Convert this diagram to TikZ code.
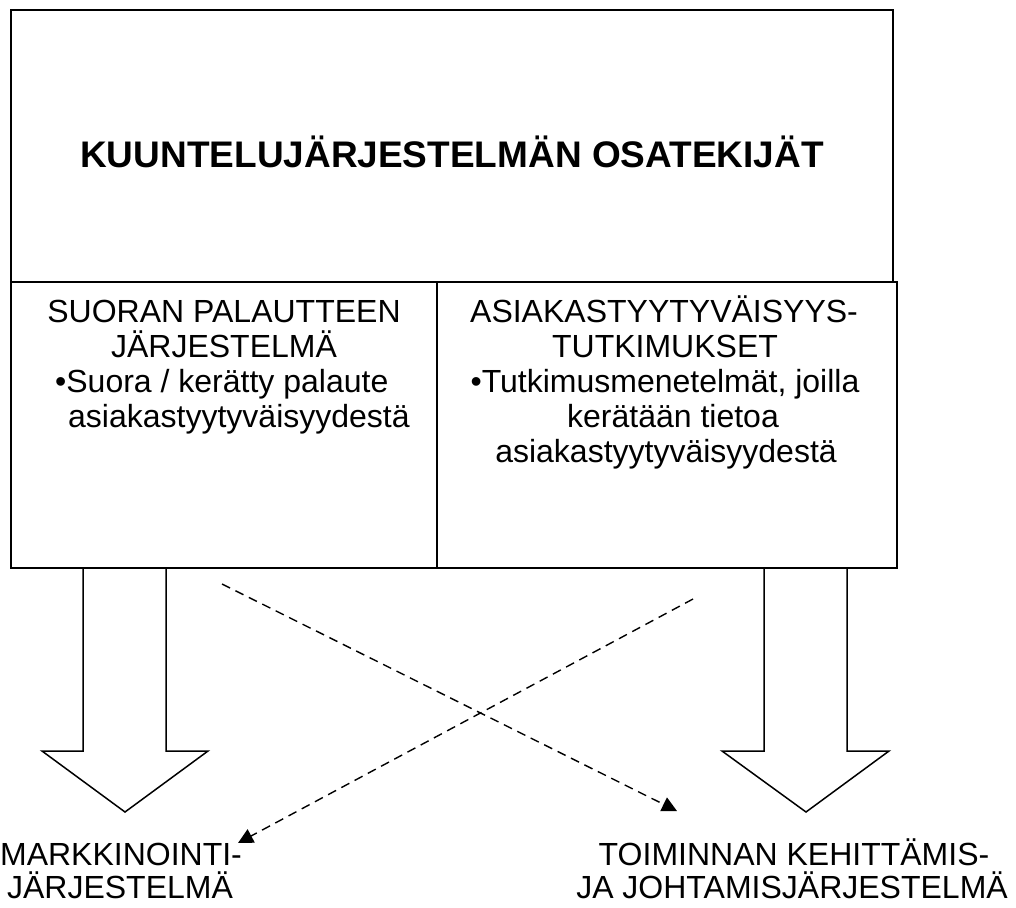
\documentclass[tikz,border=0pt]{standalone}
\usepackage{fontspec}
\setmainfont{Liberation Sans}
\usetikzlibrary{arrows.meta}
\begin{document}
\begin{tikzpicture}[x=1pt,y=-1pt,
  box/.style={draw,line width=1.8pt,inner sep=0pt},
  txt/.style={font=\fontsize{32}{35}\selectfont,inner sep=0pt,anchor=base},
  lbl/.style={font=\fontsize{32}{33}\selectfont,inner sep=0pt,anchor=base},
  title/.style={font=\fontsize{37}{42}\selectfont\bfseries,inner sep=0pt,anchor=base},
  blockarrow/.style={draw,line width=1.5pt,line join=miter},
  dasharrow/.style={draw,line width=1.4pt,dash pattern=on 9pt off 6pt,
    -{Triangle[length=15pt,width=15pt]}}]
\useasboundingbox (0,0) rectangle (1016,907);

% main box and its two compartments
\node[box,minimum width=882pt,minimum height=272pt] (top) at (452,146) {};
\node[box,minimum width=426pt,minimum height=286pt] (left) at (224,425) {};
\node[box,minimum width=460pt,minimum height=286pt] (right) at (667,425) {};

\node[title] (ttl) at (452,167) {KUUNTELUJÄRJESTELMÄN OSATEKIJÄT};

% left compartment
\node[txt] (l1) at (224,322) {SUORAN PALAUTTEEN};
\node[txt] (l2) at (224,357) {JÄRJESTELMÄ};
\node[txt,anchor=base west] (l3) at (55,392) {•Suora / kerätty palaute};
\node[txt,anchor=base west] (l4) at (68,427) {asiakastyytyväisyydestä};

% right compartment
\node[txt] (r1) at (664,322) {ASIAKASTYYTYVÄISYYS-};
\node[txt] (r2) at (665,357) {TUTKIMUKSET};
\node[txt] (r3) at (665,392) {•Tutkimusmenetelmät, joilla};
\node[txt] (r4) at (673,427) {kerätään tietoa};
\node[txt] (r5) at (666,462) {asiakastyytyväisyydestä};

% block arrows
\draw[blockarrow] (83,568) -- (83,751) -- (42,751) -- (125,812) -- (208,751) -- (166,751) -- (166,568);
\draw[blockarrow] (764,568) -- (764,751) -- (722,751) -- (806,812) -- (889,751) -- (847,751) -- (847,568);

% target systems
\node[lbl] (m1) at (121,865) {MARKKINOINTI-};
\node[lbl] (m2) at (120,898) {JÄRJESTELMÄ};
\node[lbl] (t1) at (794,865) {TOIMINNAN KEHITTÄMIS-};
\node[lbl] (t2) at (792,898) {JA JOHTAMISJÄRJESTELMÄ};

% crossing dashed arrows
\coordinate (d1s) at (222,584);
\coordinate (d1e) at (677,811);
\coordinate (d2s) at (693,599);
\coordinate (d2e) at (238,843);
\draw[dasharrow] (d1s) -- (d1e);
\draw[dasharrow] (d2s) -- (d2e);
\end{tikzpicture}
\end{document}
